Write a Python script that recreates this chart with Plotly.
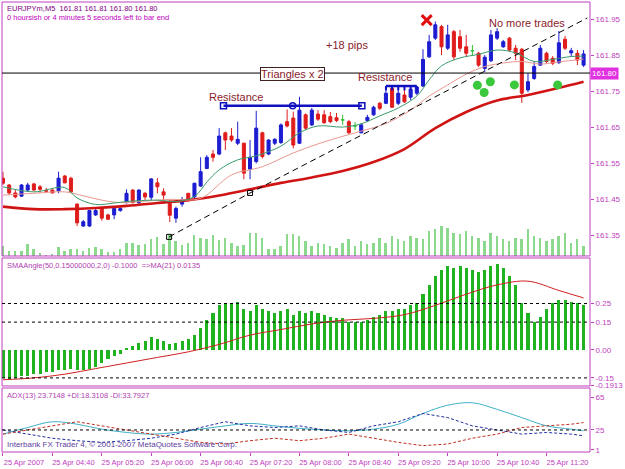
import plotly.graph_objects as go

# ---------------- data ----------------
bar_index = list(range(95))
opens = [161.508,161.489,161.467,161.458,161.475,161.492,161.484,161.473,161.475,161.473,
         161.514,161.508,161.436,161.375,161.375,161.406,161.424,161.406,161.406,161.418,
         161.440,161.475,161.440,161.466,161.455,161.495,161.470,161.438,161.397,161.436,
         161.466,161.456,161.486,161.535,161.575,161.575,161.634,161.625,161.605,161.605,
         161.533,161.554,161.634,161.575,161.605,161.607,161.665,161.675,161.605,161.684,
         161.656,161.686,161.684,161.679,161.676,161.670,161.665,161.653,161.634,161.668,
         161.684,161.716,161.716,161.758,161.716,161.739,161.733,161.744,161.764,161.845,
         161.897,161.929,161.869,161.915,161.901,161.873,161.862,161.855,161.813,161.834,
         161.897,161.873,161.897,161.869,161.866,161.753,161.785,161.822,161.855,161.841,
         161.829,161.894,161.856,161.855,161.822]
highs = [161.526,161.492,161.475,161.492,161.495,161.495,161.489,161.481,161.477,161.526,
         161.517,161.512,161.438,161.392,161.420,161.424,161.429,161.409,161.429,161.427,
         161.477,161.477,161.477,161.470,161.508,161.508,161.480,161.447,161.429,161.456,
         161.467,161.495,161.566,161.572,161.586,161.647,161.637,161.647,161.665,161.607,
         161.614,161.695,161.637,161.616,161.619,161.660,161.699,161.693,161.734,161.688,
         161.703,161.697,161.697,161.692,161.689,161.684,161.670,161.664,161.661,161.684,
         161.709,161.720,161.764,161.764,161.759,161.753,161.761,161.764,161.866,161.906,
         161.943,161.934,161.934,161.920,161.920,161.906,161.878,161.859,161.850,161.920,
         161.925,161.892,161.900,161.878,161.870,161.800,161.831,161.878,161.859,161.847,
         161.917,161.903,161.870,161.864,161.864]
lows = [161.489,161.461,161.452,161.456,161.470,161.473,161.467,161.467,161.466,161.466,
        161.494,161.466,161.375,161.373,161.373,161.403,161.390,161.392,161.394,161.415,
        161.438,161.438,161.436,161.447,161.447,161.466,161.447,161.386,161.384,161.429,
        161.443,161.452,161.484,161.533,161.554,161.572,161.586,161.609,161.600,161.505,
        161.505,161.549,161.563,161.572,161.600,161.603,161.649,161.591,161.603,161.642,
        161.653,161.667,161.659,161.661,161.664,161.656,161.631,161.642,161.633,161.664,
        161.681,161.697,161.714,161.703,161.711,161.717,161.725,161.739,161.761,161.842,
        161.892,161.850,161.864,161.836,161.859,161.845,161.850,161.817,161.803,161.831,
        161.892,161.870,161.859,161.836,161.717,161.747,161.781,161.820,161.828,161.822,
        161.825,161.864,161.845,161.822,161.817]
closes = [161.494,161.467,161.456,161.489,161.489,161.475,161.477,161.472,161.467,161.508,
          161.495,161.470,161.384,161.387,161.418,161.418,161.397,161.394,161.424,161.424,
          161.466,161.440,161.475,161.456,161.506,161.484,161.461,161.405,161.424,161.447,
          161.447,161.494,161.526,161.566,161.566,161.625,161.614,161.614,161.616,161.522,
          161.566,161.647,161.568,161.614,161.616,161.656,161.653,161.600,161.697,161.647,
          161.697,161.672,161.662,161.665,161.668,161.670,161.634,161.653,161.656,161.677,
          161.705,161.702,161.744,161.705,161.744,161.720,161.755,161.761,161.838,161.887,
          161.934,161.873,161.906,161.845,161.869,161.855,161.862,161.822,161.844,161.906,
          161.915,161.887,161.864,161.855,161.744,161.776,161.818,161.869,161.832,161.827,
          161.884,161.869,161.862,161.836,161.853]
doji_bars = [55, 57, 76]

volume = [30,15,15,15,35,22,10,2,5,27,15,22,20,15,25,27,20,12,12,20,
          40,40,32,35,50,58,35,62,45,32,40,62,55,50,62,48,55,38,30,32,
          68,68,55,20,22,30,65,65,
          60,45,30,40,35,30,25,40,50,30,45,35,40,55,40,60,50,45,60,55,
          50,75,80,90,85,70,65,75,60,55,45,70,60,50,45,55,50,80,60,55,
          45,50,60,70,40,50,30]

ma_slow_bars = [0,5,10,15,20,25,30,35,40,45,50,55,60,65,70,75,80,85,90,94]
ma_slow = [161.429,161.422,161.422,161.425,161.431,161.439,161.447,161.460,161.477,161.495,
           161.510,161.528,161.553,161.589,161.647,161.692,161.724,161.739,161.759,161.776]
ma_fast_bars = [0,5,10,12,15,18,20,25,28,31,33,35,38,41,45,48,51,55,58,61,64,67,69,71,74,77,80,83,86,89,92,94]
ma_fast = [161.484,161.470,161.482,161.453,161.435,161.439,161.443,161.447,161.443,161.457,
           161.497,161.531,161.559,161.570,161.597,161.634,161.653,161.650,161.659,161.681,
           161.703,161.736,161.781,161.820,161.842,161.852,161.864,161.856,161.832,161.838,
           161.846,161.847]
ma_mid_bars = [0,5,10,13,16,19,22,27,32,37,42,47,52,57,62,66,69,72,75,78,81,84,87,90,94]
ma_mid = [161.461,161.466,161.470,161.459,161.447,161.440,161.443,161.449,161.452,161.517,
          161.540,161.578,161.609,161.634,161.660,161.697,161.736,161.767,161.797,161.818,
          161.828,161.832,161.825,161.831,161.839]

bid_price = 161.80
price_ticks = [161.35,161.45,161.55,161.65,161.75,161.85,161.95]

res1_bars = [35.7, 46.9, 58.1]
res1_price = [161.709, 161.709, 161.709]
res2_bars = [62, 63, 64, 65, 66, 67]
res2_price = 161.764
trend_bars = [26.9, 40.0, 94.6]
trend_price = [161.345, 161.467, 161.953]
dot_bars = [76.8, 77.9, 78.9, 82.8, 89.8]
dot_price = [161.766, 161.746, 161.776, 161.767, 161.767]
x_mark = (68.6, 161.947)

notes = [("Resistance", 37.8, 161.734), ("Resistance", 61.8, 161.789),
         ("+18 pips", 55.7, 161.878), ("No more trades", 84.8, 161.939)]
box_note = ("Triangles x 2", 46.9, 161.797)

angle = [-0.15,-0.16,-0.15,-0.14,-0.14,-0.13,-0.13,-0.12,-0.12,-0.11,-0.11,-0.10,-0.11,-0.11,-0.10,-0.09,
         -0.07,-0.05,-0.03,-0.02,0.01,0.02,0.04,0.05,0.07,0.06,0.05,0.03,0.04,0.05,0.06,0.08,
         0.12,0.16,0.20,0.24,0.25,0.25,0.26,0.22,0.21,0.24,0.22,0.21,0.20,0.21,0.22,0.19,
         0.21,0.20,0.21,0.20,0.19,0.18,0.17,0.17,0.15,0.15,0.15,0.16,0.18,0.19,0.21,0.21,
         0.22,0.22,0.24,0.25,0.30,0.35,0.40,0.43,0.45,0.44,0.45,0.44,0.43,0.42,0.43,0.45,
         0.46,0.44,0.40,0.35,0.25,0.20,0.15,0.18,0.22,0.25,0.27,0.27,0.26,0.25,0.24]
angle_ma_bars = [0,5,10,15,20,25,30,35,40,45,50,55,60,65,70,75,80,85,90,94]
angle_ma = [-0.16,-0.15,-0.13,-0.10,-0.07,-0.04,-0.01,0.03,0.08,0.11,0.14,0.16,0.17,0.19,
            0.24,0.30,0.35,0.37,0.32,0.28]
angle_levels = [0.25, 0.15, -0.15]
angle_ticks = [0.4963, 0.25, 0.15, 0.0, -0.15, -0.1913]
angle_ticktext = ["0.4963", "0.25", "0.15", "0.00", "-0.15", "-0.1913"]

adx_bars = [0,4,8,12,16,20,24,28,32,36,40,44,48,52,56,60,64,68,72,76,80,84,88,92,94]
adx = [20,28,35,32,26,22,20,22,26,30,33,30,27,25,24,26,32,45,55,58,50,40,30,26,24]
plus_di = [25,20,15,12,10,12,15,20,28,35,30,28,30,25,22,30,35,45,40,30,25,20,22,20,18]
minus_di = [20,25,30,35,30,25,20,15,10,8,12,15,12,15,20,15,10,6,8,15,20,28,30,32,34]
adx_levels = [25]
adx_ticks = [65, 25, 1]

time_ticks = [0, 8, 16, 24, 32, 40, 48, 56, 64, 72, 80, 88]
time_labels = ["25 Apr 2007", "25 Apr 04:40", "25 Apr 05:20", "25 Apr 06:00", "25 Apr 06:40",
               "25 Apr 07:20", "25 Apr 08:00", "25 Apr 08:40", "25 Apr 09:20", "25 Apr 10:00",
               "25 Apr 10:40", "25 Apr 11:20"]

# ---------------- styles ----------------
VIOLET = "#c040c0"
UP = "#1c1cd0"
DOWN = "#e01c1c"
NOTE = "#8b1c2c"
FONT = "Liberation Sans"

fig = go.Figure()

fig.add_trace(go.Bar(x=bar_index, y=volume, yaxis="y", xaxis="x", width=0.32,
                     marker=dict(color="#8cd88c", line=dict(width=0)), showlegend=False))

fig.add_trace(go.Scatter(x=ma_slow_bars, y=ma_slow, yaxis="y4", mode="lines",
                         line=dict(color="#d01414", width=2.6, shape="spline"), showlegend=False))
fig.add_trace(go.Scatter(x=ma_mid_bars, y=ma_mid, yaxis="y4", mode="lines",
                         line=dict(color="#e89890", width=1, shape="spline"), showlegend=False))
fig.add_trace(go.Scatter(x=ma_fast_bars, y=ma_fast, yaxis="y4", mode="lines",
                         line=dict(color="#3a9a6a", width=1, shape="spline"), showlegend=False))

norm = [i for i in bar_index if i not in doji_bars]
fig.add_trace(go.Candlestick(
    x=norm, open=[opens[i] for i in norm], high=[highs[i] for i in norm],
    low=[lows[i] for i in norm], close=[closes[i] for i in norm], yaxis="y4",
    increasing=dict(line=dict(color=UP, width=1), fillcolor=UP),
    decreasing=dict(line=dict(color=DOWN, width=1), fillcolor=DOWN),
    whiskerwidth=0, showlegend=False, hoverinfo="skip"))
fig.add_trace(go.Candlestick(
    x=doji_bars, open=[opens[i] for i in doji_bars], high=[highs[i] for i in doji_bars],
    low=[lows[i] for i in doji_bars], close=[closes[i] for i in doji_bars], yaxis="y4",
    increasing=dict(line=dict(color="#30c030", width=1), fillcolor="#30c030"),
    decreasing=dict(line=dict(color="#30c030", width=1), fillcolor="#30c030"),
    whiskerwidth=0, showlegend=False, hoverinfo="skip"))

fig.add_trace(go.Scatter(x=trend_bars, y=trend_price, yaxis="y4", mode="lines",
                         line=dict(color="black", width=1, dash="6px,4px"), showlegend=False))
fig.add_trace(go.Scatter(x=trend_bars[:2], y=trend_price[:2], yaxis="y4", mode="markers",
                         marker=dict(symbol="square-open", size=5, color="black", line=dict(width=1)),
                         showlegend=False))

fig.add_trace(go.Scatter(x=res1_bars, y=res1_price, yaxis="y4", mode="lines+markers",
                         line=dict(color="#1010c0", width=2.5),
                         marker=dict(symbol=["square-open", "circle-open", "square-open"], size=6,
                                     color="#1010c0", line=dict(width=1.5)),
                         showlegend=False))
comb_x, comb_y = [], []
for b in res2_bars:
    comb_x += [b, b, None]
    comb_y += [res2_price, res2_price - 0.012, None]
fig.add_trace(go.Scatter(x=[res2_bars[0], res2_bars[-1]], y=[res2_price, res2_price], yaxis="y4",
                         mode="lines", line=dict(color="#1010c0", width=2.5), showlegend=False))
fig.add_trace(go.Scatter(x=comb_x, y=comb_y, yaxis="y4", mode="lines",
                         line=dict(color="#1010c0", width=2), showlegend=False))

fig.add_trace(go.Scatter(x=dot_bars, y=dot_price, yaxis="y4", mode="markers",
                         marker=dict(symbol="circle", size=9, color="#3cc83c"), showlegend=False))
fig.add_trace(go.Scatter(x=[x_mark[0]], y=[x_mark[1]], yaxis="y4", mode="markers",
                         marker=dict(symbol="x-thin", size=10, color="#e01010",
                                     line=dict(width=3, color="#e01010")),
                         showlegend=False))

fig.add_trace(go.Bar(x=bar_index, y=angle, yaxis="y2", width=0.5,
                     marker=dict(color="#1fb41f", line=dict(width=0)), showlegend=False))
fig.add_trace(go.Scatter(x=angle_ma_bars, y=angle_ma, yaxis="y2", mode="lines",
                         line=dict(color="#d02020", width=1, shape="spline"), showlegend=False))

fig.add_trace(go.Scatter(x=adx_bars, y=adx, yaxis="y3", mode="lines",
                         line=dict(color="#40b0c8", width=1, shape="spline"), showlegend=False))
fig.add_trace(go.Scatter(x=adx_bars, y=plus_di, yaxis="y3", mode="lines",
                         line=dict(color="#2030a0", width=1, dash="3px,2px"), showlegend=False))
fig.add_trace(go.Scatter(x=adx_bars, y=minus_di, yaxis="y3", mode="lines",
                         line=dict(color="#c03020", width=1, dash="3px,2px"), showlegend=False))

shapes = []
for ref in ["y", "y2", "y3"]:
    shapes.append(dict(type="rect", xref="x domain", yref=ref + " domain", x0=0, x1=1, y0=0, y1=1,
                       line=dict(color=VIOLET, width=1)))
shapes.append(dict(type="line", xref="x domain", yref="y4", x0=0, x1=1, y0=bid_price, y1=bid_price,
                   line=dict(color="black", width=1)))
for lv in angle_levels:
    shapes.append(dict(type="line", xref="x domain", yref="y2", x0=0, x1=1, y0=lv, y1=lv,
                       line=dict(color="black", width=1, dash="dot")))
for lv in adx_levels:
    shapes.append(dict(type="line", xref="x domain", yref="y3", x0=0, x1=1, y0=lv, y1=lv,
                       line=dict(color="black", width=1, dash="dot")))

annotations = []
for txt, bx, py in notes:
    annotations.append(dict(x=bx, y=py, xref="x", yref="y4", text=txt, showarrow=False,
                            font=dict(family=FONT, size=11, color=NOTE)))
annotations.append(dict(x=box_note[1], y=box_note[2], xref="x", yref="y4", text=box_note[0],
                        showarrow=False, font=dict(family=FONT, size=11, color=NOTE),
                        bordercolor="#402020", borderwidth=1, borderpad=0, bgcolor="white"))
annotations.append(dict(x=1, y=bid_price, xref="paper", yref="y4", xanchor="left", text="161.80",
                        showarrow=False, font=dict(family=FONT, size=8, color="white"),
                        bgcolor="#e030e0", borderpad=1))
annotations.append(dict(x=0, y=1, xref="paper", yref="paper", xanchor="left", yanchor="top",
                        xshift=3, yshift=0, showarrow=False,
                        text="EURJPYm,M5  161.81 161.81 161.80 161.80",
                        font=dict(family=FONT, size=7.5, color="#800080")))
annotations.append(dict(x=0, y=1, xref="paper", yref="paper", xanchor="left", yanchor="top",
                        xshift=3, yshift=-9, showarrow=False,
                        text="0 hoursish or 4 minutes 5 seconds left to bar end",
                        font=dict(family=FONT, size=7.5, color="#c000c0")))
annotations.append(dict(x=0, y=1, xref="paper", yref="y2 domain", xanchor="left", yanchor="top",
                        xshift=3, yshift=-1, showarrow=False,
                        text="SMAAngle(50,0.15000000,2,0) -0.1000  =>MA(21) 0.0135",
                        font=dict(family=FONT, size=7.5, color="#b040b0")))
annotations.append(dict(x=0, y=1, xref="paper", yref="y3 domain", xanchor="left", yanchor="top",
                        xshift=3, yshift=-1, showarrow=False,
                        text="ADX(13) 23.7148 +DI:18.3108 -DI:33.7927",
                        font=dict(family=FONT, size=7.5, color="#b040b0")))
annotations.append(dict(x=0, y=0, xref="paper", yref="y3 domain", xanchor="left", yanchor="bottom",
                        xshift=3, yshift=1, showarrow=False,
                        text="Interbank FX Trader 4, © 2001-2007 MetaQuotes Software Corp.",
                        font=dict(family=FONT, size=8, color="#6040a0")))

tickfont = dict(family=FONT, size=8, color=VIOLET)
fig.update_layout(
    width=625, height=469, margin=dict(l=2, r=28, t=2, b=17),
    paper_bgcolor="white", plot_bgcolor="white", showlegend=False, bargap=0,
    xaxis=dict(domain=[0, 1], anchor="y3", range=[-0.16, 95.04], tickvals=time_ticks,
               ticktext=time_labels, ticks="outside", ticklen=3, tickcolor=VIOLET,
               tickfont=dict(family=FONT, size=7.5, color=VIOLET), ticklabelshift=21,
               showgrid=False, zeroline=False, showline=False, rangeslider=dict(visible=False)),
    yaxis=dict(domain=[0.4356, 1], range=[0, 762], visible=False, fixedrange=True),
    yaxis4=dict(overlaying="y", side="right", anchor="x", range=[161.2919, 161.9974],
                tickvals=price_ticks, ticktext=[f"{v:.2f}" for v in price_ticks],
                ticks="outside", ticklen=3, tickcolor=VIOLET, tickfont=tickfont,
                showgrid=False, zeroline=False, showline=False),
    yaxis2=dict(domain=[0.1467, 0.4311], side="right", anchor="x", range=[-0.1935, 0.4946],
                tickvals=angle_ticks, ticktext=angle_ticktext, ticks="outside", ticklen=3,
                tickcolor=VIOLET, tickfont=tickfont, showgrid=False, zeroline=False, showline=False),
    yaxis3=dict(domain=[0, 0.1422], side="right", anchor="x", range=[-1.7, 75.9],
                tickvals=adx_ticks, ticks="outside", ticklen=3, tickcolor=VIOLET, tickfont=tickfont,
                showgrid=False, zeroline=False, showline=False),
    shapes=shapes, annotations=annotations,
)

fig.write_html("out.html")
